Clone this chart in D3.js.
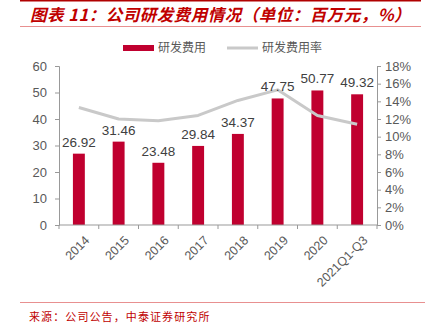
<!DOCTYPE html>
<html><head><meta charset="utf-8">
<script src="https://cdn.jsdelivr.net/npm/d3@7"></script>
<style>
body{margin:0;background:#fff;}
svg{display:block;}
</style></head>
<body><svg id="c" width="430" height="324"></svg>
<script>
const categories = ["2014","2015","2016","2017","2018","2019","2020","2021Q1-Q3"];
const rdExpense = [26.92,31.46,23.48,29.84,34.37,47.75,50.77,49.32];
const rdRatio = [13.3,12.0,11.8,12.4,14.1,15.3,12.4,11.4];
const leftTicks = [0,10,20,30,40,50,60];
const rightTicks = [0,2,4,6,8,10,12,14,16,18];

const svg = d3.select("#c");
const font = "Arial, 'Liberation Sans', 'Noto Sans CJK SC', sans-serif";
const cjk = "'Noto Sans CJK SC', sans-serif";
const red = "#c0002f";

// header
svg.append("line").attr("x1",20).attr("x2",421).attr("y1",0.5).attr("y2",0.5).attr("stroke","#b00000").attr("stroke-width",2);
svg.append("text").attr("x",30).attr("y",21).attr("fill","#c00000").attr("font-family",cjk)
  .attr("font-size",16.5).attr("font-weight","bold").attr("font-style","italic").attr("letter-spacing",0.5)
  .text("图表 11：公司研发费用情况（单位：百万元，%）");
svg.append("line").attr("x1",20).attr("x2",421).attr("y1",26.5).attr("y2",26.5).attr("stroke","#e89090").attr("stroke-width",1);

const x0 = 59, x1 = 377, yTop = 66, yBot = 225;
const x = d3.scaleBand().domain(categories).range([x0,x1]).paddingInner(0.7).paddingOuter(0.35);
const xb = d3.scaleBand().domain(categories).range([x0,x1]);
const yL = d3.scaleLinear().domain([0,60]).range([yBot,yTop]);
const yR = d3.scaleLinear().domain([0,18]).range([yBot,yTop]);

// axes
const gL = svg.append("g").attr("transform",`translate(${x0},0)`)
  .call(d3.axisLeft(yL).tickValues(leftTicks).tickSize(4).tickPadding(8));
const gR = svg.append("g").attr("transform",`translate(${x1},0)`)
  .call(d3.axisRight(yR).tickValues(rightTicks).tickFormat(d=>d+"%").tickSize(4).tickPadding(4));
[gL,gR].forEach(g=>{
  g.select(".domain").attr("stroke","#999");
  g.selectAll(".tick line").attr("stroke","#999");
  g.selectAll("text").attr("fill","#595959").attr("font-size",13).attr("font-family",font);
});

// bars
svg.append("g").selectAll("rect").data(rdExpense).join("rect")
  .attr("x",(d,i)=>x(categories[i])).attr("width",x.bandwidth())
  .attr("y",d=>yL(d)).attr("height",d=>yBot-yL(d)).attr("fill",red);

// x axis
const gX = svg.append("g").attr("transform",`translate(0,${yBot})`);
gX.append("line").attr("x1",x0).attr("x2",x1).attr("stroke","#999");
gX.selectAll("line.t").data(d3.range(categories.length+1)).join("line").attr("class","t")
  .attr("x1",i=>x0+i*xb.step()).attr("x2",i=>x0+i*xb.step()).attr("y1",0).attr("y2",4).attr("stroke","#999");
gX.selectAll("text").data(categories).join("text")
  .attr("transform",d=>`translate(${xb(d)+xb.bandwidth()/2+5},${10}) rotate(-45)`)
  .attr("text-anchor","end").attr("dy","0.7em").attr("fill","#595959").attr("font-size",12.5).attr("font-family",font)
  .text(d=>d);

// line
const line = d3.line().x((d,i)=>xb(categories[i])+xb.bandwidth()/2).y(d=>yR(d));
svg.append("path").datum(rdRatio).attr("d",line).attr("fill","none").attr("stroke","#c9c9c9").attr("stroke-width",3).attr("stroke-linejoin","round");

// value labels
svg.append("g").selectAll("text").data(rdExpense).join("text")
  .attr("x",(d,i)=>xb(categories[i])+xb.bandwidth()/2).attr("y",d=>yL(d)-7)
  .attr("text-anchor","middle").attr("fill","#404040").attr("font-size",13.5).attr("font-family",font)
  .text(d=>d.toFixed(2));

// legend
svg.append("rect").attr("x",123).attr("y",45).attr("width",31).attr("height",6).attr("fill",red);
svg.append("text").attr("x",158).attr("y",52).attr("fill","#595959").attr("font-size",12).attr("font-family",cjk).text("研发费用");
svg.append("line").attr("x1",227).attr("x2",258).attr("y1",48).attr("y2",48).attr("stroke","#c9c9c9").attr("stroke-width",3);
svg.append("text").attr("x",262).attr("y",52).attr("fill","#595959").attr("font-size",12).attr("font-family",cjk).text("研发费用率");

// footer
svg.append("line").attr("x1",20).attr("x2",425).attr("y1",302.5).attr("y2",302.5).attr("stroke","#e89090").attr("stroke-width",1);
svg.append("text").attr("x",29).attr("y",321).attr("fill","#c00000").attr("font-size",11).attr("letter-spacing",1.1).attr("font-family",cjk).text("来源：公司公告，中泰证券研究所");
</script></body></html>
